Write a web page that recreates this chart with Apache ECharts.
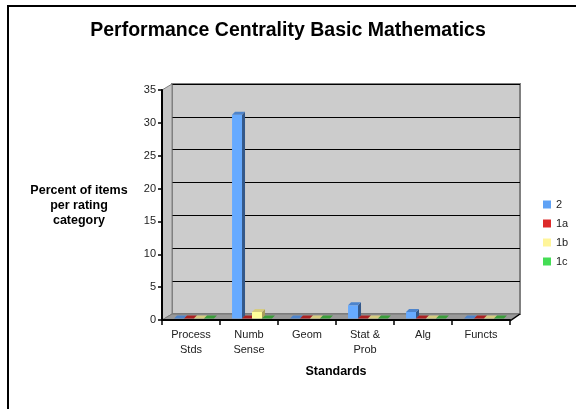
<!DOCTYPE html>
<html>
<head>
<meta charset="utf-8">
<script src="https://cdn.jsdelivr.net/npm/echarts@6/dist/echarts.min.js"></script>
<style>
  html, body { margin: 0; padding: 0; background: #fff; }
  #chart { width: 576px; height: 409px; }
</style>
</head>
<body>
<div id="chart"></div>
<script>
// data
var categories = ['Process\nStds', 'Numb\nSense', 'Geom', 'Stat &\nProb', 'Alg', 'Functs'];
var seriesNames = ['2', '1a', '1b', '1c'];
var values2 = [0, 31, 0, 2, 1, 0];
var values1a = [0, 0, 0, 0, 0, 0];
var values1b = [0, 1, 0, 0, 0, 0];
var values1c = [0, 0, 0, 0, 0, 0];
var yTicks = [0, 5, 10, 15, 20, 25, 30, 35];

// front / top / side colours of each series
var faceColors = [
  { front: '#66aaff', top: '#4d84cc', side: '#33588a' },
  { front: '#cc2222', top: '#aa2020', side: '#7a1515' },
  { front: '#ffff99', top: '#d6cc80', side: '#a89e5c' },
  { front: '#44cc44', top: '#3a9e3a', side: '#2a702a' }
];
var legendColors = ['#5fa2f5', '#dd2a2a', '#fff59a', '#44dd55'];

var depth = 3;
var FONT = 'Liberation Sans';

// 3D column drawn through the axis scales
function makeRender(s) {
  return function (params, api) {
    var cat = api.value(0);
    var v = api.value(1);
    var base = api.coord([cat, 0]);
    var top = api.coord([cat, v]);
    var cw = api.size([1, 0])[0];
    var bw = cw * 0.172;
    var x0 = base[0] - 2 * bw + s * bw + 3;
    var x1 = x0 + bw;
    var yb = base[1] - 1.5;
    var yt = top[1] - 1.5;
    var c = faceColors[s];
    return {
      type: 'group',
      children: [
        { type: 'rect', shape: { x: x0, y: yt, width: bw, height: yb - yt },
          style: { fill: c.front } },
        { type: 'polygon', shape: { points: [[x1, yt], [x1 + depth, yt - depth], [x1 + depth, yb - depth], [x1, yb]] },
          style: { fill: c.side } },
        { type: 'polygon', shape: { points: [[x0, yt], [x0 + depth, yt - depth], [x1 + depth, yt - depth], [x1, yt]] },
          style: { fill: c.top } }
      ]
    };
  };
}

function toData(arr) {
  return arr.map(function (v, i) { return [i, v]; });
}

var allValues = [values2, values1a, values1b, values1c];

var chart = echarts.init(document.getElementById('chart'));

var series = allValues.map(function (arr, s) {
  return {
    name: seriesNames[s],
    type: 'custom',
    xAxisIndex: 1,
    yAxisIndex: 1,
    renderItem: makeRender(s),
    itemStyle: { color: legendColors[s] },
    encode: { x: 0, y: 1 },
    data: toData(arr),
    z: 5 + s
  };
});

var option = {
  animation: false,
  backgroundColor: '#ffffff',
  textStyle: { fontFamily: FONT },
  title: {
    text: 'Performance Centrality Basic Mathematics',
    left: 'center',
    top: 16,
    textStyle: { fontFamily: FONT, fontWeight: 'bold', fontSize: 19.5, color: '#000' }
  },
  legend: {
    orient: 'vertical',
    left: 543,
    top: 199,
    padding: 0,
    itemWidth: 8,
    itemHeight: 8,
    itemGap: 8,
    icon: 'rect',
    data: seriesNames,
    textStyle: { fontSize: 11, color: '#222', fontFamily: FONT }
  },
  grid: [
    // back wall
    { left: 172, right: 56, top: 84, bottom: 95, show: true, backgroundColor: '#cccccc',
      borderColor: '#808080', borderWidth: 2 },
    // front plane
    { left: 162, right: 66, top: 90, bottom: 89 }
  ],
  xAxis: [
    { gridIndex: 0, type: 'category', data: categories, show: false },
    {
      gridIndex: 1, type: 'category', data: categories, z: 10,
      name: 'Standards', nameLocation: 'middle', nameGap: 45,
      nameTextStyle: { fontWeight: 'bold', fontSize: 12.5, color: '#000', fontFamily: FONT },
      axisLine: { lineStyle: { color: '#000', width: 2 } },
      axisTick: { show: true, length: 5, lineStyle: { color: '#000', width: 1.5 } },
      axisLabel: { color: '#222', fontSize: 11, lineHeight: 15, margin: 7, interval: 0 }
    }
  ],
  yAxis: [
    {
      gridIndex: 0, type: 'value', min: 0, max: 35, interval: 5,
      axisLine: { show: false }, axisTick: { show: false }, axisLabel: { show: false },
      splitLine: { show: true, lineStyle: { color: '#000', width: 1.2 } }
    },
    {
      gridIndex: 1, type: 'value', min: yTicks[0], max: yTicks[yTicks.length - 1], interval: 5, z: 10,
      axisLine: { show: true, lineStyle: { color: '#000', width: 2 } },
      axisTick: { show: true, length: 4, lineStyle: { color: '#000', width: 1.5 } },
      axisLabel: { color: '#222', fontSize: 11, margin: 6 },
      splitLine: { show: false }
    }
  ],
  graphic: [
    // outer border
    { type: 'rect', z: 100, shape: { x: 8, y: 6, width: 700, height: 600 },
      style: { fill: 'none', stroke: '#000', lineWidth: 2 } },
    // left side wall
    { type: 'polygon', z: 1, shape: { points: [[162, 90], [172, 84], [172, 314], [162, 320]] },
      style: { fill: '#c4c4c4', stroke: '#808080', lineWidth: 1 } },
    // floor
    { type: 'polygon', z: 1, shape: { points: [[162, 320], [172, 314], [520, 314], [510, 320]] },
      style: { fill: '#999999', stroke: '#777777', lineWidth: 1 } },
    { type: 'line', z: 12, shape: { x1: 510, y1: 321, x2: 520, y2: 314 },
      style: { stroke: '#000', lineWidth: 1.5 } },
    // y axis title
    { type: 'text', z: 10,
      style: { text: 'Percent of items\nper rating\ncategory', x: 79, y: 183, align: 'center', verticalAlign: 'top',
        font: 'bold 12.5px "Liberation Sans"', fill: '#000', lineHeight: 15 } }
  ],
  series: series
};

chart.setOption(option);
</script>
</body>
</html>
